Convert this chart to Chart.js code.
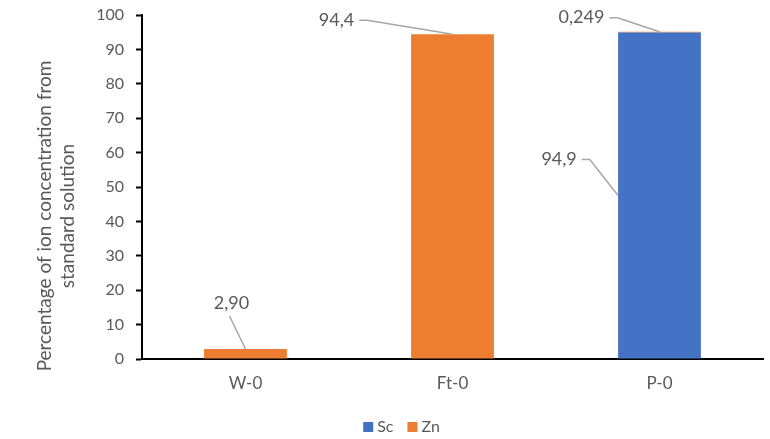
<!DOCTYPE html>
<html>
<head>
<meta charset="utf-8">
<script src="https://cdn.jsdelivr.net/npm/chart.js@4.4.1/dist/chart.umd.min.js"></script>
<style>
  html, body { margin: 0; padding: 0; background: #ffffff; }
  #wrap { width: 770px; height: 439px; }
</style>
</head>
<body>
<div id="wrap"><canvas id="c" width="770" height="439"></canvas></div>
<script>
// Samples and measured shares (%)
const categories = ['W-0', 'Ft-0', 'P-0'];
const scValues = [0, 0, 94.9];
const znValues = [2.90, 94.4, 0.249];
const seriesNames = ['Sc', 'Zn'];
const yMin = 0;
const yMax = 100;
const yStep = 10;
const axisTitle = ['Percentage of ion concentration from', 'standard solution'];

const FONT = 'Lato, "Liberation Sans", sans-serif';
const TEXT = '#595959';
const BLUE = '#4472C4';
const ORANGE = '#ED7D31';
const LEADER = '#A6A6A6';

const fmt = (v, d) => v.toFixed(d).replace('.', ',');

// Value labels with leader lines: which bar, where the line meets it, and where the text sits
const valueLabels = [
  { ds: 1, idx: 0, dec: 2, anchor: 'top',  dx: -14,  dy: -46, elbow: false },
  { ds: 1, idx: 1, dec: 1, anchor: 'top',  dx: -116, dy: -14, elbow: true },
  { ds: 1, idx: 2, dec: 3, anchor: 'top',  dx: -78,  dy: -14, elbow: true },
  { ds: 0, idx: 2, dec: 1, anchor: 'left', dx: -59,  dy: -36, elbow: true }
];

const labelPlugin = {
  id: 'valueLabels',
  afterDatasetsDraw(chart) {
    const ctx = chart.ctx;
    ctx.save();
    ctx.font = '18px ' + FONT;
    ctx.textAlign = 'center';
    ctx.textBaseline = 'middle';
    valueLabels.forEach(l => {
      const el = chart.getDatasetMeta(l.ds).data[l.idx];
      const v = chart.data.datasets[l.ds].data[l.idx];
      let ax, ay;
      if (l.anchor === 'top') { ax = el.x; ay = el.y; }
      else { ax = el.x - el.width / 2; ay = (el.y + el.base) / 2; }
      const tx = ax + l.dx, ty = ay + l.dy;
      const txt = fmt(v, l.dec);
      const w = ctx.measureText(txt).width;
      ctx.strokeStyle = LEADER;
      ctx.lineWidth = 1.5;
      ctx.beginPath();
      if (l.elbow) {
        const sx = tx + w / 2 + 5;
        ctx.moveTo(sx, ty);
        ctx.lineTo(sx + 8, ty);
        ctx.lineTo(ax, ay);
      } else {
        ctx.moveTo(tx - 2, ty + 13);
        ctx.lineTo(ax, ay);
      }
      ctx.stroke();
      ctx.fillStyle = TEXT;
      ctx.fillText(txt, tx, ty);
    });
    ctx.restore();
  }
};

// Rotated two-line y-axis title
const titlePlugin = {
  id: 'yTitle',
  afterDraw(chart) {
    const ctx = chart.ctx;
    ctx.save();
    ctx.font = '19px ' + FONT;
    ctx.fillStyle = TEXT;
    ctx.textAlign = 'center';
    ctx.textBaseline = 'middle';
    ctx.translate(45, 216);
    ctx.rotate(-Math.PI / 2);
    axisTitle.forEach((line, i) => ctx.fillText(line, 0, i * 23));
    ctx.restore();
  }
};

// Series key below the axis, built from the datasets
const keyPlugin = {
  id: 'seriesKey',
  afterDraw(chart) {
    const ctx = chart.ctx;
    ctx.save();
    ctx.font = '16px ' + FONT;
    ctx.textBaseline = 'middle';
    const box = 10, gapText = 4, gapItem = 14;
    const items = chart.data.datasets.map(d => ({ text: d.label, color: d.backgroundColor, w: ctx.measureText(d.label).width }));
    const total = items.reduce((s, it) => s + box + gapText + it.w, 0) + gapItem * (items.length - 1);
    let x = 401.5 - total / 2;
    const cy = 427;
    items.forEach(it => {
      ctx.fillStyle = it.color;
      ctx.fillRect(x, cy - box / 2, box, box);
      x += box + gapText;
      ctx.fillStyle = TEXT;
      ctx.fillText(it.text, x, cy);
      x += it.w + gapItem;
    });
    ctx.restore();
  }
};

new Chart(document.getElementById('c'), {
  type: 'bar',
  data: {
    labels: categories,
    datasets: [
      { label: seriesNames[0], data: scValues, backgroundColor: BLUE, borderWidth: 0 },
      { label: seriesNames[1], data: znValues, backgroundColor: ORANGE, borderWidth: 0 }
    ]
  },
  options: {
    responsive: false,
    animation: false,
    devicePixelRatio: 1,
    layout: { padding: { top: 15, right: 7, left: 0, bottom: 24 } },
    datasets: { bar: { categoryPercentage: 0.8, barPercentage: 0.5 } },
    scales: {
      x: {
        stacked: true,
        offset: true,
        grid: { display: true, drawOnChartArea: false, drawTicks: false },
        border: { display: true, color: '#000000', width: 2 },
        ticks: { color: TEXT, font: { family: FONT, size: 17 }, padding: 14 },
        afterFit(scale) { scale.height = 56; scale.paddingLeft = 0; scale.paddingRight = 0; }
      },
      y: {
        stacked: true,
        min: yMin,
        max: yMax,
        ticks: { stepSize: yStep, color: TEXT, font: { family: FONT, size: 16 }, padding: 12 },
        grid: { drawOnChartArea: false, drawTicks: true, tickLength: 6, tickColor: '#000000', tickWidth: 2 },
        border: { display: true, color: '#000000', width: 2 },
        afterFit(scale) { scale.width = 142; scale.paddingTop = 0; scale.paddingBottom = 0; }
      }
    },
    plugins: {
      legend: { display: false },
      tooltip: { enabled: false }
    }
  },
  plugins: [labelPlugin, titlePlugin, keyPlugin]
});
</script>
</body>
</html>
